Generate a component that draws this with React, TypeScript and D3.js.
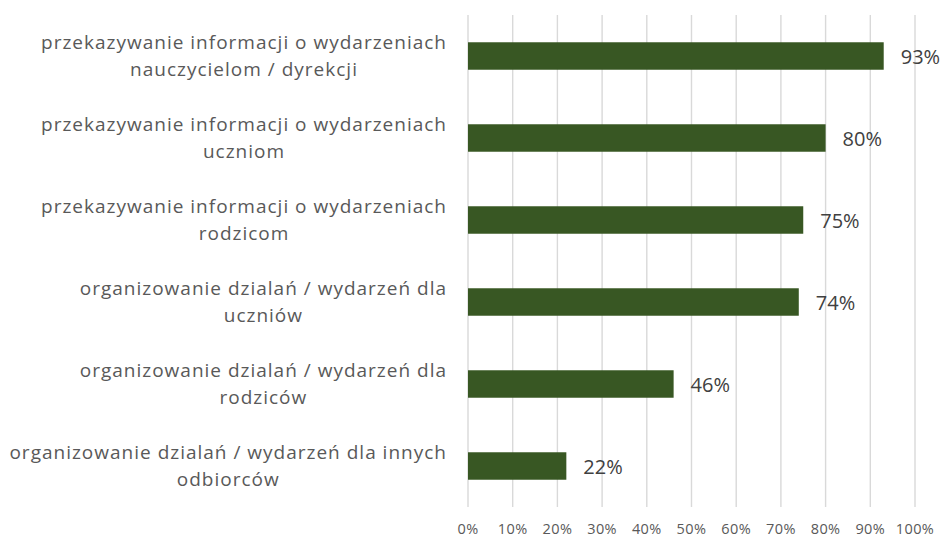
import React, { useEffect, useRef } from 'react';
import * as d3 from 'd3';

const categories = [
  'przekazywanie informacji o wydarzeniach\nnauczycielom / dyrekcji',
  'przekazywanie informacji o wydarzeniach\nuczniom',
  'przekazywanie informacji o wydarzeniach\nrodzicom',
  'organizowanie dzialań / wydarzeń dla\nuczniów',
  'organizowanie dzialań / wydarzeń dla\nrodziców',
  'organizowanie dzialań / wydarzeń dla innych\nodbiorców',
];
const values = [0.93, 0.8, 0.75, 0.74, 0.46, 0.22];
const ticks = [0, 0.1, 0.2, 0.3, 0.4, 0.5, 0.6, 0.7, 0.8, 0.9, 1];

const W = 943, H = 539;
const FONT = '"Open Sans", "Noto Sans", sans-serif';

const App = () => {
  const ref = useRef<SVGSVGElement>(null);

  useEffect(() => {
    const svg = d3.select(ref.current);
    svg.selectAll('*').remove();

    const x = d3.scaleLinear().domain([0, 1]).range([468, 915]);
    const y = d3.scaleBand().domain(categories).range([15, 507]).paddingInner(0.665).paddingOuter(0.3325);

    // gridlines
    svg.append('g')
      .selectAll('line')
      .data(ticks)
      .enter()
      .append('line')
      .attr('x1', d => x(d)).attr('x2', d => x(d))
      .attr('y1', 15).attr('y2', 507)
      .attr('stroke', '#d9d9d9')
      .attr('stroke-width', 1.4);

    // x axis labels
    svg.append('g')
      .selectAll('text')
      .data(ticks)
      .enter()
      .append('text')
      .attr('x', d => x(d))
      .attr('y', 534)
      .attr('text-anchor', 'middle')
      .attr('font-family', FONT)
      .attr('font-size', 14.5)
      .attr('letter-spacing', 0.4)
      .attr('fill', '#595959')
      .text(d => d3.format('.0%')(d));

    // bars
    svg.append('g')
      .selectAll('rect')
      .data(values)
      .enter()
      .append('rect')
      .attr('x', x(0))
      .attr('y', (d, i) => y(categories[i])!)
      .attr('width', d => x(d) - x(0))
      .attr('height', y.bandwidth())
      .attr('fill', '#385723');

    // value labels
    svg.append('g')
      .selectAll('text')
      .data(values)
      .enter()
      .append('text')
      .attr('x', d => x(d) + 17)
      .attr('y', (d, i) => y(categories[i])! + y.bandwidth() / 2 + 8)
      .attr('font-family', FONT)
      .attr('font-size', 20)
      .attr('fill', '#404040')
      .text(d => d3.format('.0%')(d));

    // category labels: block right aligned, lines centered inside the block
    const rightEdge = 447;
    categories.forEach(c => {
      const lines = c.split('\n');
      const cy = y(c)! + y.bandwidth() / 2;
      const g = svg.append('g');
      const texts = g.selectAll('text')
        .data(lines)
        .enter()
        .append('text')
        .attr('y', (d, i) => cy + (i - (lines.length - 1) / 2) * 27 + 6.5)
        .attr('text-anchor', 'middle')
        .attr('font-family', FONT)
        .attr('font-size', 19)
        .attr('letter-spacing', 1)
        .attr('fill', '#595959')
        .text(d => d);
      let maxW = 0;
      texts.each(function () {
        maxW = Math.max(maxW, (this as SVGTextElement).getComputedTextLength());
      });
      texts.attr('x', rightEdge - maxW / 2);
    });
  }, []);

  return (
    <svg ref={ref} width={W} height={H} style={{ position: 'absolute', left: 0, top: 0, background: '#fff' }} />
  );
};

export default App;
